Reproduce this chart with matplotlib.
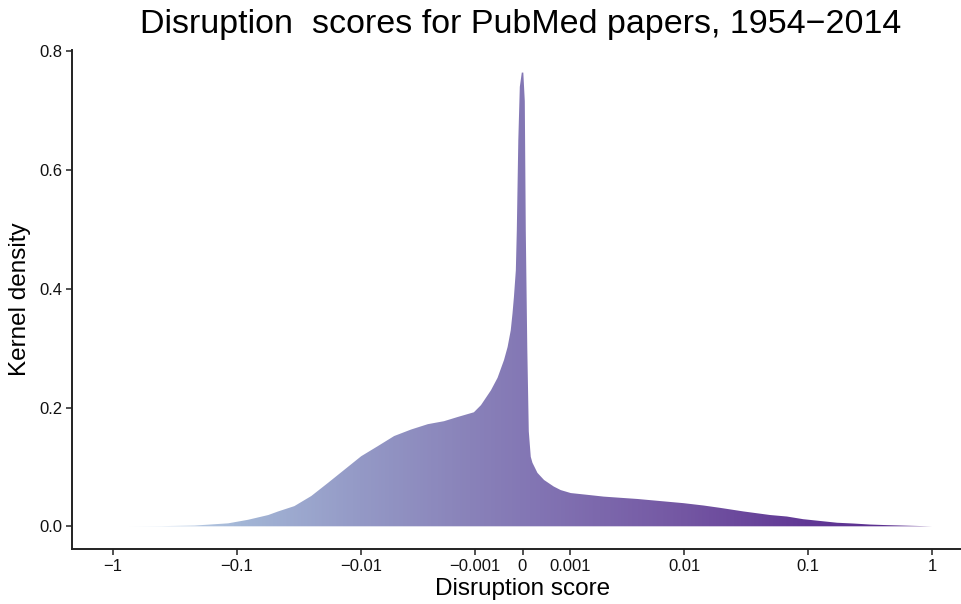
import numpy as np
import matplotlib
matplotlib.use("Agg")
import matplotlib.pyplot as plt
from matplotlib.colors import LinearSegmentedColormap

plt.rcParams['font.family'] = ['Liberation Sans', 'DejaVu Sans']

# Disruption score (x) and kernel density (y)
score = [-0.746, -0.406, -0.220, -0.118, -0.0815, -0.056, -0.0467, -0.0345,
         -0.0252, -0.0185, -0.01367, -0.00996, -0.0073, -0.00537, -0.00389,
         -0.00281, -0.00203, -0.00152, -0.00103, -0.00085, -0.00062, -0.00048,
         -0.00035, -0.00028, -0.00022, -0.000186, -0.00016, -0.000124,
         -0.000106, -0.000078, -0.00005, -0.000013, 0.000015, 0.0000426,
         0.000061, 0.000089, 0.000117, 0.000154, 0.000186, 0.000281, 0.000411,
         0.000613, 0.000771, 0.00102, 0.00152, 0.00215, 0.00301, 0.00418,
         0.00605, 0.00989, 0.01443, 0.0197, 0.0303, 0.0496, 0.0676, 0.0915,
         0.1253, 0.172, 0.232, 0.316, 0.431, 0.70, 1.0]
density = [0.0, 0.0003, 0.0013, 0.005, 0.011, 0.019, 0.025, 0.034,
           0.051, 0.073, 0.095, 0.118, 0.135, 0.152, 0.163,
           0.172, 0.177, 0.184, 0.192, 0.204, 0.229, 0.25,
           0.28, 0.302, 0.33, 0.359, 0.386, 0.431,
           0.498, 0.65, 0.74, 0.764, 0.764, 0.716,
           0.498, 0.30, 0.16, 0.117, 0.107, 0.09, 0.078,
           0.067, 0.061, 0.056, 0.053, 0.05, 0.048, 0.046,
           0.043, 0.039, 0.035, 0.031, 0.025, 0.019, 0.0165, 0.012,
           0.009, 0.006, 0.0047, 0.003, 0.002, 0.0008, 0.0]

xticks = [-1, -0.1, -0.01, -0.001, 0, 0.001, 0.01, 0.1, 1]
xticklabels = ['\u22121', '\u22120.1', '\u22120.01', '\u22120.001', '0',
               '0.001', '0.01', '0.1', '1']
yticks = [0.0, 0.2, 0.4, 0.6, 0.8]
yticklabels = ['0.0', '0.2', '0.4', '0.6', '0.8']

# horizontal fill gradient (fraction of axes width -> colour)
grad_stops = [0.0, 0.0455, 0.061, 0.186, 0.319, 0.442, 0.498, 0.678, 0.815, 0.953, 1.0]
grad_colors = ['#d8e8f8', '#d6e7f7', '#cde0f2', '#a3b6d6', '#9499c6', '#8982b9',
               '#8478b5', '#7457a3', '#613895', '#5a2d8f', '#5a2d8f']

fig = plt.figure(figsize=(9.62, 6.04), dpi=100)
ax = fig.add_axes([72/962, 1-549/604, 901/962, (549-50)/604])
ax.set_xscale('asinh', linear_width=0.001)

poly = ax.fill_between(score, 0, density, facecolor='none', edgecolor='none')

cmap = LinearSegmentedColormap.from_list('g', list(zip(grad_stops, grad_colors)))
grad = np.linspace(0, 1, 1024).reshape(1, -1)
im = ax.imshow(grad, cmap=cmap, aspect='auto', extent=[0, 1, 0, 1],
               transform=ax.transAxes, interpolation='bilinear', zorder=2)
im.set_clip_path(poly.get_paths()[0], transform=ax.transData)
ax.set_xlim(-2.14, 2.14)
ax.set_ylim(-0.0382, 0.802)

for s in ['top', 'right']:
    ax.spines[s].set_visible(False)
for s in ['left', 'bottom']:
    ax.spines[s].set_linewidth(1.4)
    ax.spines[s].set_color('#222222')

ax.set_xticks(xticks)
ax.set_xticklabels(xticklabels)
ax.set_yticks(yticks)
ax.set_yticklabels(yticklabels)
ax.minorticks_off()
ax.tick_params(axis='both', direction='out', length=4, width=1.1,
               color='#222222', labelsize=12, labelcolor='#111111', pad=3)

ax.set_xlabel('Disruption score', fontsize=17.5, labelpad=3)
ax.set_ylabel('Kernel density', fontsize=17.5, labelpad=6)

fig.text(521/962, 1-24/604, 'Disruption  scores for PubMed papers, 1954\u22122014',
         ha='center', va='center', fontsize=24.5)

fig.savefig('out.png', dpi=100)
